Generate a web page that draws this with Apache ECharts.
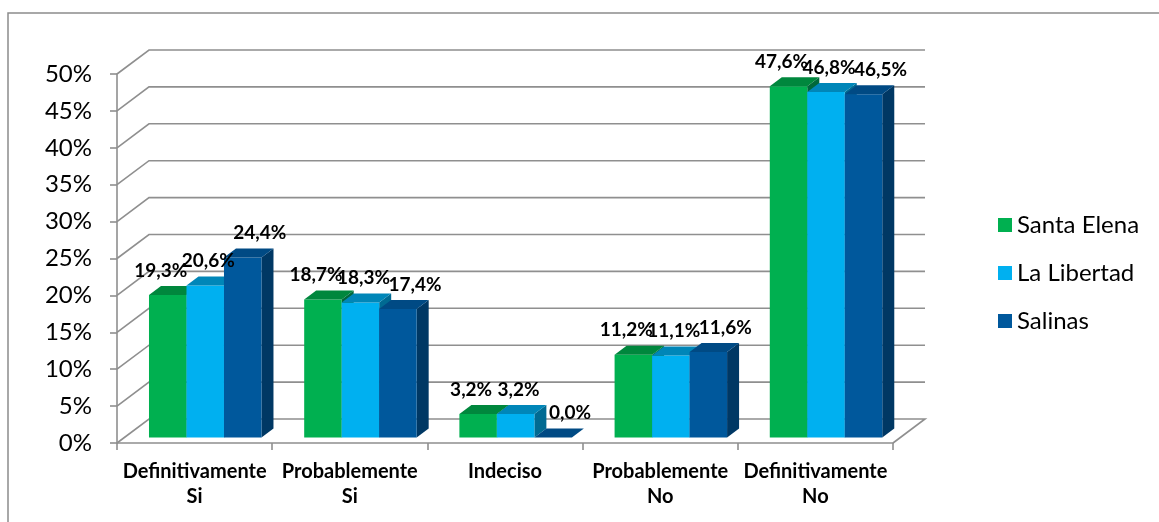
<!DOCTYPE html>
<html>
<head>
<meta charset="utf-8">
<script src="https://cdn.jsdelivr.net/npm/echarts@6/dist/echarts.min.js"></script>
<style>
  html, body { margin: 0; padding: 0; background: #fff; }
  #main { width: 1159px; height: 522px; }
</style>
</head>
<body>
<div id="main"></div>
<script>
// datos
const categories = ['Definitivamente\nSi', 'Probablemente\nSi', 'Indeciso', 'Probablemente\nNo', 'Definitivamente\nNo'];
const seriesNames = ['Santa Elena', 'La Libertad', 'Salinas'];
const santaElena = [19.3, 18.7, 3.2, 11.2, 47.6];
const laLibertad = [20.6, 18.3, 3.2, 11.1, 46.8];
const salinas = [24.4, 17.4, 0.0, 11.6, 46.5];
const yTicks = [0, 5, 10, 15, 20, 25, 30, 35, 40, 45, 50];

// estilo 3D (pixeles)
const DEPTH_X = 32, DEPTH_Y = 24;       // profundidad de las paredes
const BAR_DX = 12, BAR_DY = 9;          // profundidad de cada barra
const BAR_LIFT_Y = 5.5;
const BAR_FRAC = 0.2416, GROUP_SHIFT = 0.0685;
const GRID_COLOR = '#8f8f8f';
const FONT = 'Lato, "Open Sans", sans-serif';

const colors = [
  { front: '#00b050', top: '#00873d', side: '#00683a' },
  { front: '#00b0f0', top: '#0086b8', side: '#006a92' },
  { front: '#00589c', top: '#004a84', side: '#003864' }
];
const labelShift = [-7, 3, 17];

function fmt(v) {
  return v.toFixed(1).replace('.', ',') + '%';
}

function gridRender(params, api) {
  const cs = params.coordSys;
  const v = api.value(1);
  const y = api.coord([0, v])[1];
  const x0 = cs.x, x1 = cs.x + cs.width;
  const pts = [[x0, y], [x0 + DEPTH_X, y - DEPTH_Y], [x1 + DEPTH_X, y - DEPTH_Y]];
  if (v === 0) pts.push([x1, y]);
  return {
    type: 'polyline',
    shape: { points: pts },
    style: { stroke: GRID_COLOR, lineWidth: 1.6, fill: null }
  };
}

function makeBarRender(k) {
  return function (params, api) {
    const idx = api.value(0);
    const val = api.value(1);
    const base = api.coord([idx, 0]);
    const top = api.coord([idx, val]);
    const catW = api.size([1, 0])[0];
    const bw = catW * BAR_FRAC;
    const x = base[0] - 1.5 * bw + GROUP_SHIFT * catW + k * bw;
    const yb = base[1] - BAR_LIFT_Y;
    const yt = top[1] - BAR_LIFT_Y;
    const c = colors[k];
    return {
      type: 'group',
      children: [
        {
          type: 'polygon',
          shape: { points: [[x + bw, yt], [x + bw + BAR_DX, yt - BAR_DY], [x + bw + BAR_DX, yb - BAR_DY], [x + bw, yb]] },
          style: { fill: c.side }
        },
        {
          type: 'rect',
          shape: { x: x, y: yt, width: bw, height: yb - yt },
          style: { fill: c.front }
        },
        {
          type: 'polygon',
          shape: { points: [[x, yt], [x + bw, yt], [x + bw + BAR_DX, yt - BAR_DY], [x + BAR_DX, yt - BAR_DY]] },
          style: { fill: c.top }
        },
        {
          type: 'text',
          style: {
            x: x + bw / 2 + labelShift[k],
            y: yt - BAR_DY - 6,
            text: fmt(val),
            fill: '#000',
            font: 'bold 19px ' + FONT,
            align: 'center',
            verticalAlign: 'bottom'
          },
          z2: 100
        }
      ]
    };
  };
}

const chart = echarts.init(document.getElementById('main'));
const allSeries = [santaElena, laLibertad, salinas];

const option = {
  animation: false,
  backgroundColor: '#ffffff',
  graphic: [{
    type: 'rect',
    shape: { x: 8, y: 13, width: 1200, height: 600 },
    style: { fill: null, stroke: '#8c8c8c', lineWidth: 1.5 },
    silent: true
  }],
  grid: { left: 117, right: 266, top: 74, bottom: 79 },
  legend: {
    data: seriesNames,
    orient: 'vertical',
    left: 993,
    top: 208,
    itemWidth: 14,
    itemHeight: 14,
    itemGap: 24,
    icon: 'rect',
    textStyle: { fontFamily: FONT, fontSize: 24, color: '#000', lineHeight: 24 }
  },
  xAxis: {
    type: 'category',
    data: categories,
    axisLine: { lineStyle: { color: GRID_COLOR, width: 1.6 } },
    axisTick: { show: true, length: 7, lineStyle: { color: GRID_COLOR, width: 1.6 } },
    axisLabel: {
      interval: 0,
      margin: 16,
      fontFamily: FONT,
      fontWeight: 'bold',
      fontSize: 20,
      lineHeight: 25,
      color: '#000'
    },
    splitLine: { show: false }
  },
  yAxis: {
    type: 'value',
    min: 0,
    max: 50,
    interval: 5,
    axisLine: { show: true, lineStyle: { color: GRID_COLOR, width: 1.6 } },
    axisTick: { show: true, length: 7, lineStyle: { color: GRID_COLOR, width: 1.6 } },
    axisLabel: {
      margin: 25,
      formatter: '{value}%',
      fontFamily: FONT,
      fontSize: 24,
      color: '#000'
    },
    splitLine: { show: false }
  },
  series: [
    {
      name: 'grid3d',
      type: 'custom',
      renderItem: gridRender,
      data: yTicks.map(v => [0, v]),
      silent: true,
      z: 1
    }
  ].concat(allSeries.map((arr, k) => ({
    name: seriesNames[k],
    type: 'custom',
    renderItem: makeBarRender(k),
    itemStyle: { color: colors[k].front },
    data: arr.map((v, i) => [i, v]),
    encode: { x: 0, y: 1 },
    z: 2
  })))
};

chart.setOption(option);
</script>
</body>
</html>
